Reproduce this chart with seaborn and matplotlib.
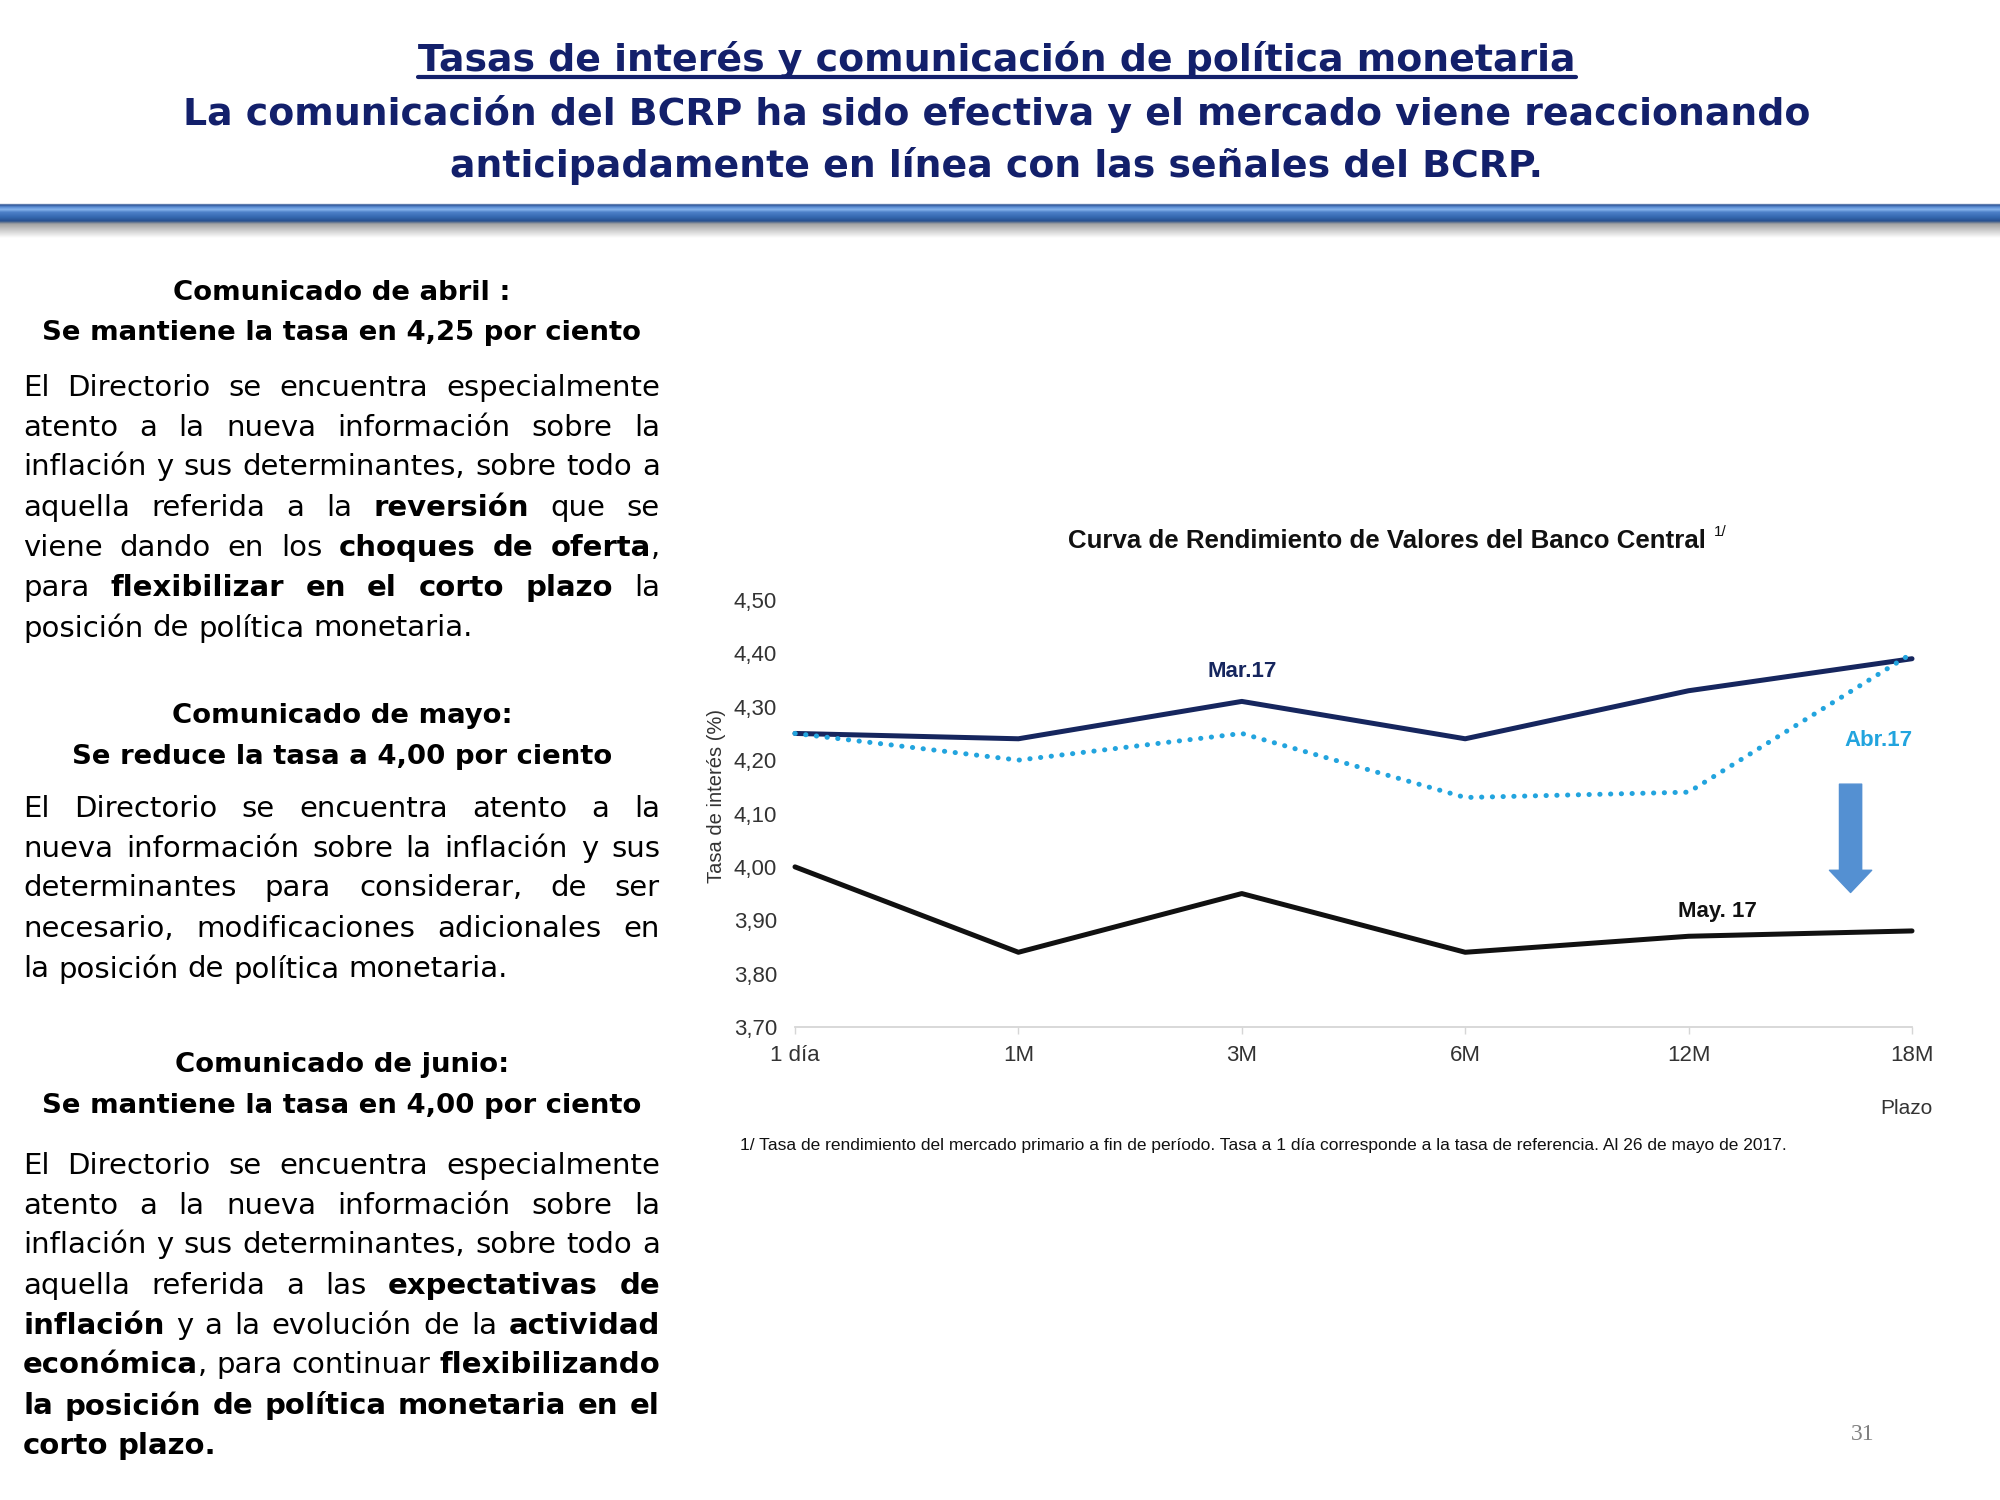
import numpy as np
import pandas as pd
import matplotlib
matplotlib.use('Agg')
import matplotlib.pyplot as plt
import seaborn as sns
from matplotlib import font_manager
from matplotlib.lines import Line2D
from matplotlib.colors import LinearSegmentedColormap

# datos de la curva
plazos = ['1 día', '1M', '3M', '6M', '12M', '18M']
mar17 = [4.25, 4.24, 4.31, 4.24, 4.33, 4.39]
abr17 = [4.25, 4.20, 4.25, 4.13, 4.14, 4.40]
may17 = [4.00, 3.84, 3.95, 3.84, 3.87, 3.88]
yticks = [3.70, 3.80, 3.90, 4.00, 4.10, 4.20, 4.30, 4.40, 4.50]

titulo = 'Tasas de interés y comunicación de política monetaria'
subtitulo = ['La comunicación del BCRP ha sido efectiva y el mercado viene reaccionando',
             'anticipadamente en línea con las señales del BCRP.']

# textos de la columna izquierda (*...* = negrita)
encabezados = [
    ['Comunicado de abril :', 'Se mantiene la tasa en 4,25 por ciento'],
    ['Comunicado de mayo:', 'Se reduce la tasa a 4,00 por ciento'],
    ['Comunicado de junio:', 'Se mantiene la tasa en 4,00 por ciento'],
]
parrafos = [
    ['El Directorio se encuentra especialmente',
     'atento a la nueva información sobre la',
     'inflación y sus determinantes, sobre todo a',
     'aquella referida a la *reversión* que se',
     'viene dando en los *choques de oferta*,',
     'para *flexibilizar en el corto plazo* la',
     'posición de política monetaria.'],
    ['El Directorio se encuentra atento a la',
     'nueva información sobre la inflación y sus',
     'determinantes para considerar, de ser',
     'necesario, modificaciones adicionales en',
     'la posición de política monetaria.'],
    ['El Directorio se encuentra especialmente',
     'atento a la nueva información sobre la',
     'inflación y sus determinantes, sobre todo a',
     'aquella referida a las *expectativas de*',
     '*inflación* y a la evolución de la *actividad*',
     '*económica*, para continuar *flexibilizando*',
     '*la posición de política monetaria en el*',
     '*corto plazo.*'],
]

W, H = 2000, 1500
NAVY = '#13206b'
AZUL_OSC = '#16265e'
CELESTE = '#22a4de'

sns.set_theme(style='white')
nombres = {f.name for f in font_manager.fontManager.ttflist}
NARROW = 'Liberation Sans Narrow' if 'Liberation Sans Narrow' in nombres else 'Liberation Sans'
plt.rcParams['font.family'] = ['Liberation Sans', 'DejaVu Sans']
TEXTO = ['DejaVu Sans']


def fx(x):
    return x / W


def fy(y):
    return 1 - y / H


fig = plt.figure(figsize=(20, 15), dpi=100)
fig.patch.set_facecolor('white')
rend = fig.canvas.get_renderer()


def ancho(txt, size, weight='normal', family=TEXTO):
    t = fig.text(0, 0, txt, fontsize=size, fontweight=weight, family=family)
    w = t.get_window_extent(rend).width
    t.remove()
    return w


def ajustar(txt, objetivo, weight='normal', family=TEXTO):
    return 20 * objetivo / ancho(txt, 20, weight, family)


# tamaños ajustados al ancho medido en la imagen
S_TIT = ajustar(subtitulo[0], 1630, 'bold')
S_ENC = ajustar(encabezados[0][1], 600, 'bold')
S_PAR = ajustar(parrafos[0][-1], 449)

# ---- encabezado ----
t1 = fig.text(fx(997), fy(56), titulo, ha='center', va='center_baseline',
              fontsize=S_TIT, fontweight='bold', color=NAVY, family=TEXTO)
bb = t1.get_window_extent(rend)
fig.add_artist(Line2D([fx(bb.x0), fx(bb.x1)], [fy(77), fy(77)], color=NAVY, lw=3))
fig.text(fx(997), fy(110), subtitulo[0], ha='center', va='center_baseline',
         fontsize=S_TIT, fontweight='bold', color=NAVY, family=TEXTO)
fig.text(fx(997), fy(162), subtitulo[1], ha='center', va='center_baseline',
         fontsize=S_TIT, fontweight='bold', color=NAVY, family=TEXTO)

# barra azul con sombra
px_stops = [200, 203.5, 204.5, 207, 209.5, 212, 217, 221, 222.5, 224, 229, 238]
col_stops = ['#ffffff', '#ffffff', '#2a4f8f', '#5d8fd6', '#86b4ec', '#4d80c8',
             '#3568b0', '#27508f', '#6a7a92', '#a3a3a3', '#c4c4c4', '#ffffff']
pos = [(p - 200) / 38 for p in px_stops]
cmap = LinearSegmentedColormap.from_list('barra', list(zip(pos, col_stops)))
barra = fig.add_axes([0, fy(238), 1, 38 / H])
barra.imshow(np.linspace(0, 1, 200).reshape(-1, 1), aspect='auto', cmap=cmap,
             extent=[0, 1, 1, 0], interpolation='bilinear')
barra.set_axis_off()


# ---- columna de texto ----
def partir(linea):
    tokens, actual, buf, neg = [], [], '', False
    for ch in linea:
        if ch == '*':
            if buf:
                actual.append((buf, neg))
                buf = ''
            neg = not neg
        elif ch == ' ':
            if buf:
                actual.append((buf, neg))
                buf = ''
            if actual:
                tokens.append(actual)
                actual = []
        else:
            buf += ch
    if buf:
        actual.append((buf, neg))
    if actual:
        tokens.append(actual)
    return tokens


def parrafo(lineas, ys, x0=23, x1=660, size=21):
    esp = ancho('a a', size) - ancho('aa', size)
    for k, (linea, y) in enumerate(zip(lineas, ys)):
        toks = partir(linea)
        grupos, anchos = [], []
        for tok in toks:
            partes, w = [], 0
            for txt, neg in tok:
                t = fig.text(0, fy(y), txt, fontsize=size, ha='left', va='center_baseline',
                             fontweight='bold' if neg else 'normal', color='black',
                             family=TEXTO)
                partes.append((t, w))
                w += t.get_window_extent(rend).width
            grupos.append(partes)
            anchos.append(w)
        if k == len(lineas) - 1 or len(toks) == 1:
            gap = esp
        else:
            gap = (x1 - x0 - sum(anchos)) / (len(toks) - 1)
        x = x0
        for partes, w in zip(grupos, anchos):
            for t, off in partes:
                t.set_x(fx(x + off))
            x += w + gap


ys_enc = [[290, 330], [713, 754], [1062, 1103]]
ys_par = [[385, 425, 464, 505, 545, 585, 625],
          [806, 846, 885, 926, 966],
          [1163, 1203, 1242, 1283, 1323, 1362, 1403, 1443]]
for enc, ye, par, yp in zip(encabezados, ys_enc, parrafos, ys_par):
    for txt, y in zip(enc, ye):
        fig.text(fx(342), fy(y), txt, ha='center', va='center_baseline',
                 fontsize=S_ENC, fontweight='bold', color='black', family=TEXTO)
    parrafo(par, yp, size=S_PAR)

fig.text(fx(1863), fy(1432), '31', ha='center', va='center_baseline', fontsize=17,
         color='#808080', family=['Liberation Serif', 'DejaVu Serif'])

# ---- gráfico ----
ax = fig.add_axes([fx(795), fy(1027), (1912 - 795) / W, (1027 - 600) / H])
x = list(range(len(plazos)))
sns.lineplot(x=x, y=mar17, ax=ax, color=AZUL_OSC, lw=3.6, clip_on=False)
sns.lineplot(x=x, y=abr17, ax=ax, color=CELESTE, lw=3.6, linestyle=(0, (0.05, 2.1)),
             dash_capstyle='round', clip_on=False)
sns.lineplot(x=x, y=may17, ax=ax, color='#111111', lw=3.6, clip_on=False)

ax.set_xlim(0, len(plazos) - 1)
ax.set_ylim(yticks[0], yticks[-1])
ax.set_xticks(x)
ax.set_xticklabels(plazos)
ax.set_yticks(yticks)
ax.set_yticklabels([f'{v:.2f}'.replace('.', ',') for v in yticks])
for lab in ax.get_xticklabels() + ax.get_yticklabels():
    lab.set_family([NARROW, 'DejaVu Sans'])
    lab.set_fontsize(16)
    lab.set_color('#333333')
for s in ['left', 'top', 'right']:
    ax.spines[s].set_visible(False)
ax.spines['bottom'].set_color('#d6d6d6')
ax.spines['bottom'].set_linewidth(1.3)
ax.tick_params(axis='x', length=5, width=1, color='#d6d6d6', pad=8, bottom=True)
ax.tick_params(axis='y', length=0, pad=13)
ax.grid(False)
ax.set_facecolor('none')

ax.set_ylabel('Tasa de interés (%)', fontsize=14.5, color='#333333')
ax.yaxis.set_label_coords(-0.062, 0.54)

etq = dict(fontweight='bold', fontsize=16, family=[NARROW, 'DejaVu Sans'],
           ha='center', va='center')
ax.text(2, 4.366, 'Mar.17', color=AZUL_OSC, **etq)
ax.text(4.85, 4.236, 'Abr.17', color=CELESTE, **etq)
ax.text(4.13, 3.916, 'May. 17', color='#111111', **etq)

ax.annotate('', xy=(4.725, 3.952), xytext=(4.725, 4.155),
            arrowprops=dict(arrowstyle='simple,head_length=1.0,head_width=1.9,tail_width=1.0',
                            color='#5490d2', shrinkA=0, shrinkB=0, mutation_scale=16))

S_CH = ajustar('Curva de Rendimiento de Valores del Banco Central', 640, 'bold', [NARROW])
tt = fig.text(fx(1387), fy(538), 'Curva de Rendimiento de Valores del Banco Central',
              ha='center', va='center_baseline', fontsize=S_CH, fontweight='bold',
              family=[NARROW, 'DejaVu Sans'], color='#111111')
bt = tt.get_window_extent(rend)
fig.text(fx(bt.x1 + 8), fy(531), '1/', ha='left', va='center_baseline', fontsize=11,
         family=[NARROW, 'DejaVu Sans'], color='#111111')

fig.text(fx(1932), fy(1106), 'Plazo', ha='right', va='center_baseline', fontsize=15,
         family=[NARROW, 'DejaVu Sans'], color='#333333')
fig.text(fx(740), fy(1144),
         '1/ Tasa de rendimiento del mercado primario a fin de período. Tasa a 1 día corresponde '
         'a la tasa de referencia. Al 26 de mayo de 2017.',
         ha='left', va='center_baseline', fontsize=12.5,
         family=[NARROW, 'DejaVu Sans'], color='#111111')

fig.savefig('out.png', dpi=100)
